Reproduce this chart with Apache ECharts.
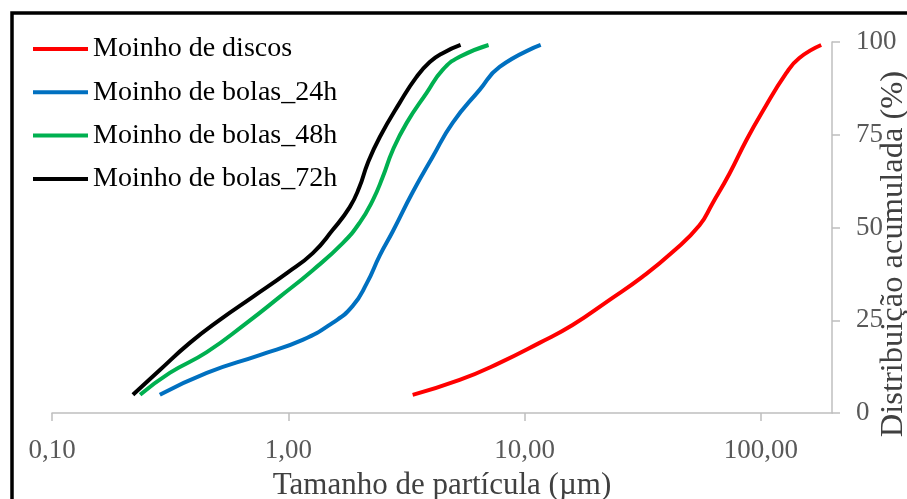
<!DOCTYPE html>
<html>
<head>
<meta charset="utf-8">
<script src="https://cdn.jsdelivr.net/npm/echarts@6/dist/echarts.min.js"></script>
<style>html,body{margin:0;padding:0;background:#fff}#c{width:907px;height:499px}</style>
</head>
<body>
<div id="c"></div>
<script>
var seriesNames = ['Moinho de discos', 'Moinho de bolas_24h', 'Moinho de bolas_48h', 'Moinho de bolas_72h'];
var seriesColors = ['#FF0000', '#0070C0', '#00B050', '#000000'];

// particle size (µm) and cumulative distribution (%)
var discosX = [3.36, 5.31, 7.84, 11.57, 15.96, 22.9, 31.5, 42.3, 55.0, 62.4, 73.6, 86.9, 101.5, 128, 145.5, 180];
var discosY = [4.9, 8.9, 13.5, 18.9, 23.7, 30.5, 36.7, 43.4, 50.6, 56.5, 64.5, 73.6, 81.2, 91.6, 95.7, 99.2];

var b24X = [0.286, 0.452, 0.757, 1.15, 1.54, 1.87, 2.15, 2.44, 2.77, 3.36, 4.08, 4.96, 6.45, 7.84, 11.7];
var b24Y = [4.9, 10.8, 15.6, 19.7, 24.3, 28.8, 35.0, 42.5, 49.0, 59.5, 69.0, 78.2, 87.1, 93.3, 99.2];

var b48X = [0.236, 0.315, 0.452, 0.667, 0.920, 1.27, 1.70, 2.00, 2.28, 2.51, 2.77, 3.17, 3.85, 4.50, 5.31, 7.04];
var b48Y = [4.9, 10.8, 16.4, 24.3, 31.3, 38.5, 45.8, 51.2, 57.4, 63.6, 70.9, 78.2, 86.3, 92.5, 96.0, 99.2];

var b72X = [0.22, 0.286, 0.383, 0.513, 0.708, 0.986, 1.27, 1.54, 1.82, 2.00, 2.17, 2.44, 2.96, 3.49, 3.97, 4.50, 5.36];
var b72Y = [4.9, 11.6, 18.9, 25.1, 31.3, 37.7, 43.1, 49.3, 55.5, 60.9, 67.4, 74.4, 83.6, 90.6, 94.6, 97.0, 99.2];

var xTicks = [0.1, 1, 10, 100];
var yTicks = [0, 25, 50, 75, 100];

function pairs(xs, ys) { return xs.map(function (x, i) { return [x, ys[i]]; }); }
var allData = [pairs(discosX, discosY), pairs(b24X, b24Y), pairs(b48X, b48Y), pairs(b72X, b72Y)];

var font = '"Liberation Serif", "Times New Roman", serif';
var chart = echarts.init(document.getElementById('c'));
chart.setOption({
  animation: false,
  backgroundColor: '#ffffff',
  grid: { left: 52, right: 75, top: 42, bottom: 86, outerBoundsMode: 'none', containLabel: false },
  legend: {
    orient: 'vertical', left: 33, top: 34, padding: 0,
    icon: 'rect', itemWidth: 55, itemHeight: 4, itemGap: 13.3,
    textStyle: { fontFamily: font, fontSize: 28, color: '#000', lineHeight: 30 },
    data: seriesNames
  },
  xAxis: {
    type: 'log', logBase: 10, min: 0.1, max: 200,
    name: 'Tamanho de partícula (µm)', nameLocation: 'middle', nameGap: 57, nameMoveOverlap: false,
    nameTextStyle: { fontFamily: font, fontSize: 31, color: '#404040' },
    axisLine: { lineStyle: { color: '#BFBFBF', width: 1.5 } },
    axisTick: { show: true, length: 8, lineStyle: { color: '#BFBFBF', width: 1.5 }, customValues: xTicks },
    axisLabel: {
      margin: 24, fontFamily: font, fontSize: 27, color: '#595959', customValues: xTicks,
      formatter: function (v) { return Number(v).toFixed(2).replace('.', ','); }
    },
    splitLine: { show: false }, minorTick: { show: false }
  },
  yAxis: {
    type: 'value', position: 'right', min: 0, max: 100, interval: 25,
    axisLine: { show: true, lineStyle: { color: '#BFBFBF', width: 1.5 } },
    axisTick: { show: true, length: 8, lineStyle: { color: '#BFBFBF', width: 1.5 } },
    axisLabel: { margin: 24, fontFamily: font, fontSize: 27, color: '#595959' },
    splitLine: { show: false }
  },
  graphic: [
    { type: 'rect', x: 12, y: 13, shape: { x: 0, y: 0, width: 1000, height: 1000 },
      style: { fill: 'none', stroke: '#000', lineWidth: 3.5 }, z: 100, silent: true },
    { type: 'text', x: 893, y: 254, rotation: Math.PI / 2,
      style: { text: 'Distribuição acumulada (%)', fontFamily: font, fontSize: 32.5, fill: '#404040',
               align: 'center', verticalAlign: 'middle' } }
  ],
  series: seriesNames.map(function (n, i) {
    return {
      name: n, type: 'line', data: allData[i], smooth: 0.5, showSymbol: false, symbol: 'none',
      lineStyle: { color: seriesColors[i], width: 4 }, itemStyle: { color: seriesColors[i] }
    };
  })
});
</script>
</body>
</html>
